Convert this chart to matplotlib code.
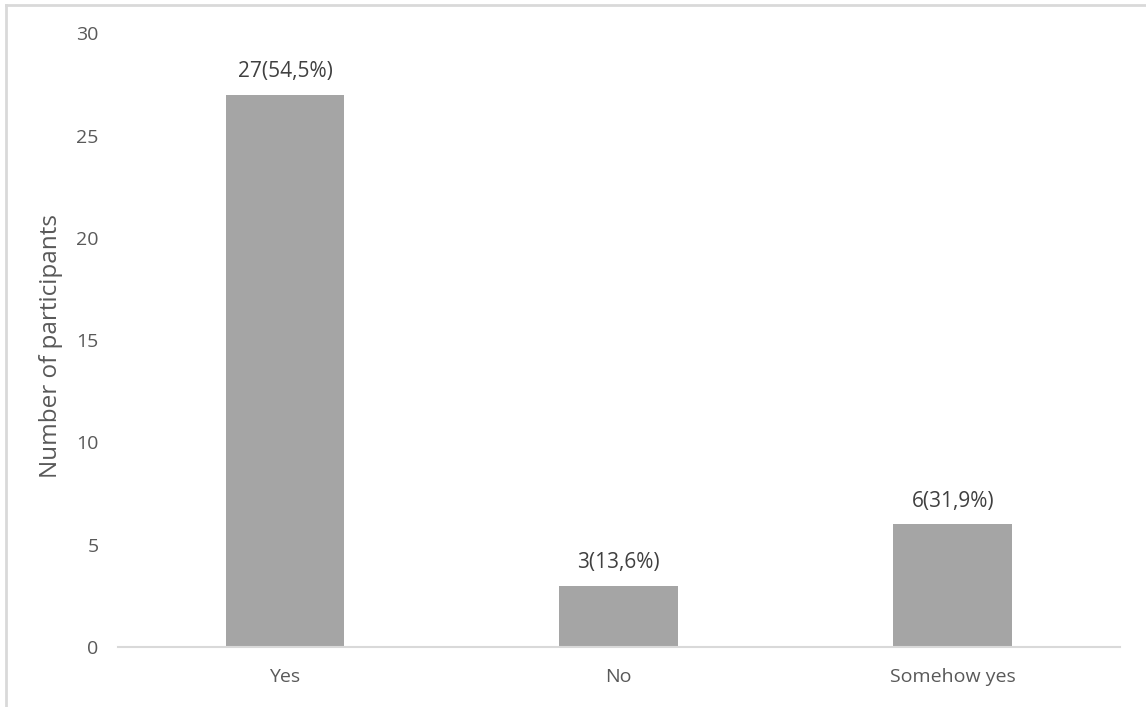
import matplotlib.pyplot as plt
from matplotlib.lines import Line2D

categories = ["Yes", "No", "Somehow yes"]
counts = [27, 3, 6]
percents = ["54,5", "13,6", "31,9"]
yticks = [0, 5, 10, 15, 20, 25, 30]

plt.rcParams["font.family"] = ["Open Sans", "DejaVu Sans"]

fig = plt.figure(figsize=(11.46, 7.07), dpi=100)
ax = fig.add_axes([0.103, 0.085, 0.874, 0.868])

x = range(len(categories))
bars = ax.bar(x, counts, width=0.356, color="#A5A5A5", zorder=2)

for rect, n, p in zip(bars, counts, percents):
    ax.annotate(f"{n}({p}%)", (rect.get_x() + rect.get_width() / 2, n),
                xytext=(0, 9), textcoords="offset points",
                ha="center", va="bottom", fontsize=15, color="#404040")

ax.set_xlim(-0.5, len(categories) - 0.5)
ax.set_ylim(0, 30)
ax.set_xticks(list(x))
ax.set_xticklabels(categories)
ax.set_yticks(yticks)
ax.tick_params(axis="both", length=0, labelsize=14, colors="#595959")
ax.tick_params(axis="y", pad=14)
ax.tick_params(axis="x", pad=15)
ax.set_ylabel("Number of participants", fontsize=17.5, color="#595959")
ax.yaxis.set_label_coords(-0.055, 0.49)

for side in ["top", "right", "left"]:
    ax.spines[side].set_visible(False)
ax.spines["bottom"].set_color("#D9D9D9")
ax.spines["bottom"].set_linewidth(1.5)

# light frame around the chart area (top and left edges)
fig.add_artist(Line2D([0.005, 1.0], [0.993, 0.993], transform=fig.transFigure,
                      color="#D9D9D9", linewidth=2))
fig.add_artist(Line2D([0.005, 0.005], [0.0, 0.993], transform=fig.transFigure,
                      color="#D9D9D9", linewidth=2))

fig.savefig("out.png", dpi=100)
